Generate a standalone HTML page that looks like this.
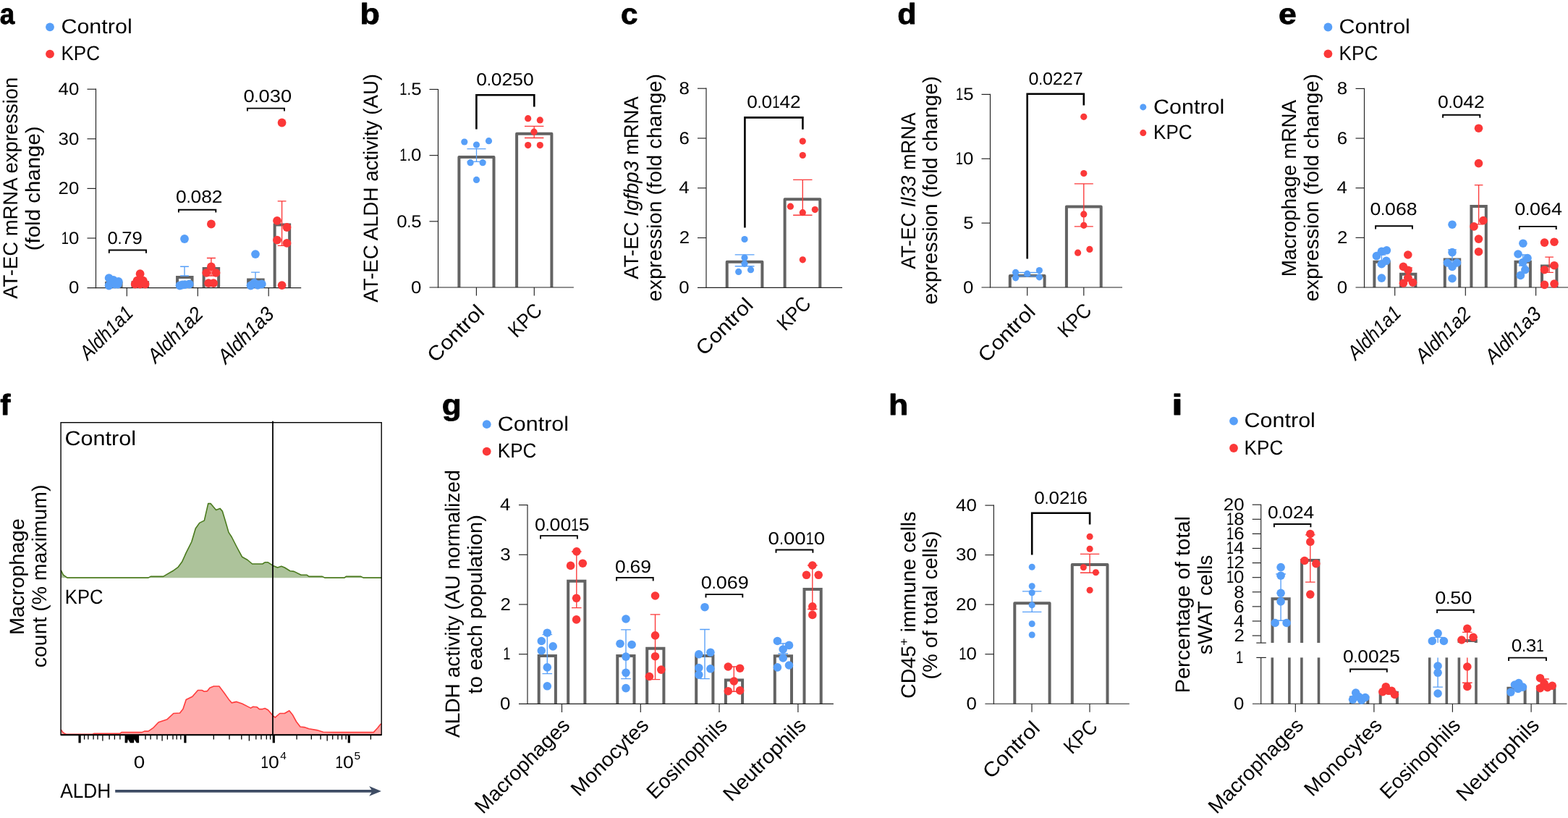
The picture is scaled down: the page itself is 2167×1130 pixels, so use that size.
<!DOCTYPE html>
<html lang="en"><head><meta charset="utf-8"><title>Figure</title>
<style>html,body{margin:0;padding:0;background:#fff}body{width:2167px;height:1130px;overflow:hidden}svg{display:block}</style>
</head><body>
<svg width="2167" height="1130" viewBox="0 0 2167 1130" font-family="'Liberation Sans', sans-serif" text-rendering="geometricPrecision">
<g class="bars"><path d="M147.05 397.60V391.00H167.55V397.60" fill="none" stroke="#636363" stroke-width="4.0" stroke-linejoin="miter"/>
<path d="M183.55 397.60V390.30H204.05V397.60" fill="none" stroke="#636363" stroke-width="4.0" stroke-linejoin="miter"/>
<path d="M245.05 397.60V383.10H265.55V397.60" fill="none" stroke="#636363" stroke-width="4.0" stroke-linejoin="miter"/>
<path d="M281.65 397.60V371.00H302.15V397.60" fill="none" stroke="#636363" stroke-width="4.0" stroke-linejoin="miter"/>
<path d="M343.15 397.60V386.40H363.65V397.60" fill="none" stroke="#636363" stroke-width="4.0" stroke-linejoin="miter"/>
<path d="M379.65 397.60V310.50H400.15V397.60" fill="none" stroke="#636363" stroke-width="4.0" stroke-linejoin="miter"/>
<path d="M634.40 397.00V216.90H682.50V397.00" fill="none" stroke="#636363" stroke-width="4.0" stroke-linejoin="round"/>
<path d="M714.10 397.00V184.70H762.40V397.00" fill="none" stroke="#636363" stroke-width="4.0" stroke-linejoin="round"/>
<path d="M1004.70 397.30V361.70H1053.40V397.30" fill="none" stroke="#636363" stroke-width="4.0" stroke-linejoin="round"/>
<path d="M1084.60 397.30V275.20H1133.30V397.30" fill="none" stroke="#636363" stroke-width="4.0" stroke-linejoin="round"/>
<path d="M1395.80 397.00V381.10H1443.60V397.00" fill="none" stroke="#636363" stroke-width="4.0" stroke-linejoin="round"/>
<path d="M1473.90 397.00V285.50H1521.70V397.00" fill="none" stroke="#636363" stroke-width="4.0" stroke-linejoin="round"/>
<path d="M1899.40 397.00V361.70H1919.80V397.00" fill="none" stroke="#636363" stroke-width="4.0" stroke-linejoin="miter"/>
<path d="M1936.00 397.00V378.70H1956.40V397.00" fill="none" stroke="#636363" stroke-width="4.0" stroke-linejoin="miter"/>
<path d="M1996.80 397.00V358.60H2017.20V397.00" fill="none" stroke="#636363" stroke-width="4.0" stroke-linejoin="miter"/>
<path d="M2033.40 397.00V285.00H2053.80V397.00" fill="none" stroke="#636363" stroke-width="4.0" stroke-linejoin="miter"/>
<path d="M2094.50 397.00V361.70H2114.90V397.00" fill="none" stroke="#636363" stroke-width="4.0" stroke-linejoin="miter"/>
<path d="M2131.00 397.00V367.60H2151.40V397.00" fill="none" stroke="#636363" stroke-width="4.0" stroke-linejoin="miter"/>
<path d="M84.2 798.3L84.2 787.7L87.4 794.2L92.9 798.1L205.0 798.1L208.2 796.4L225.7 796.4L231.1 793.1L238.7 788.8L246.3 783.3L251.8 775.7L257.2 763.7L264.8 748.5L270.3 730.0L275.7 722.4L282.3 719.1L287.7 695.6L291.0 695.6L298.6 704.5L304.0 702.4L307.3 706.1L311.6 720.2L316.0 735.4L320.3 742.0L326.9 755.0L334.5 769.2L342.1 773.5L348.6 779.0L362.8 779.0L366.1 776.8L370.4 776.8L376.9 781.2L383.5 784.0L388.9 782.3L393.3 784.0L400.9 788.8L406.3 789.4L416.1 794.2L423.8 794.2L427.0 796.4L445.5 796.4L448.8 798.1L476.0 798.1L478.2 796.4L498.9 796.4L502.1 798.1L527.2 798.1L527.2 798.3Z" fill="#adc39b"/>
<path d="M84.2 787.7L87.4 794.2L92.9 798.1L205.0 798.1L208.2 796.4L225.7 796.4L231.1 793.1L238.7 788.8L246.3 783.3L251.8 775.7L257.2 763.7L264.8 748.5L270.3 730.0L275.7 722.4L282.3 719.1L287.7 695.6L291.0 695.6L298.6 704.5L304.0 702.4L307.3 706.1L311.6 720.2L316.0 735.4L320.3 742.0L326.9 755.0L334.5 769.2L342.1 773.5L348.6 779.0L362.8 779.0L366.1 776.8L370.4 776.8L376.9 781.2L383.5 784.0L388.9 782.3L393.3 784.0L400.9 788.8L406.3 789.4L416.1 794.2L423.8 794.2L427.0 796.4L445.5 796.4L448.8 798.1L476.0 798.1L478.2 796.4L498.9 796.4L502.1 798.1L527.2 798.1" fill="none" stroke="#4a7a1d" stroke-width="1.6" stroke-linejoin="round"/>
<path d="M84.2 1015.2L84.2 1007.9L87.4 1012.3L91.8 1014.4L127.7 1014.4L129.9 1013.3L165.8 1013.3L168.0 1011.6L196.3 1011.6L199.5 1010.1L205.0 1010.1L211.5 1005.7L219.1 997.7L231.1 993.7L239.8 985.5L248.5 985.0L252.9 979.6L257.2 966.5L265.9 962.2L273.5 953.5L279.0 953.5L282.3 955.2L286.6 954.6L289.9 950.2L295.3 948.0L302.9 948.0L309.5 956.7L316.0 965.9L320.3 970.9L326.9 969.4L334.5 972.0L342.1 975.9L346.5 978.1L349.7 976.3L355.2 976.8L358.4 979.6L362.8 979.6L366.1 978.5L370.4 980.7L376.9 988.3L380.2 991.1L386.7 985.5L393.3 985.5L399.8 981.8L404.2 987.2L409.6 997.0L415.0 1004.0L420.5 1004.6L427.0 1006.8L437.9 1008.6L446.6 1011.2L461.8 1011.6L516.3 1011.6L521.7 1005.7L526.1 1000.3L527.2 1000.3L527.2 1015.2Z" fill="#ffabab"/>
<path d="M84.2 1007.9L87.4 1012.3L91.8 1014.4L127.7 1014.4L129.9 1013.3L165.8 1013.3L168.0 1011.6L196.3 1011.6L199.5 1010.1L205.0 1010.1L211.5 1005.7L219.1 997.7L231.1 993.7L239.8 985.5L248.5 985.0L252.9 979.6L257.2 966.5L265.9 962.2L273.5 953.5L279.0 953.5L282.3 955.2L286.6 954.6L289.9 950.2L295.3 948.0L302.9 948.0L309.5 956.7L316.0 965.9L320.3 970.9L326.9 969.4L334.5 972.0L342.1 975.9L346.5 978.1L349.7 976.3L355.2 976.8L358.4 979.6L362.8 979.6L366.1 978.5L370.4 980.7L376.9 988.3L380.2 991.1L386.7 985.5L393.3 985.5L399.8 981.8L404.2 987.2L409.6 997.0L415.0 1004.0L420.5 1004.6L427.0 1006.8L437.9 1008.6L446.6 1011.2L461.8 1011.6L516.3 1011.6L521.7 1005.7L526.1 1000.3L527.2 1000.3" fill="none" stroke="#ff3c3c" stroke-width="1.6" stroke-linejoin="round"/>
<path d="M744.70 972.40V906.00H767.90V972.40" fill="none" stroke="#636363" stroke-width="4.0" stroke-linejoin="miter"/>
<path d="M785.20 972.40V802.80H808.40V972.40" fill="none" stroke="#636363" stroke-width="4.0" stroke-linejoin="miter"/>
<path d="M853.30 972.40V906.00H876.50V972.40" fill="none" stroke="#636363" stroke-width="4.0" stroke-linejoin="miter"/>
<path d="M894.20 972.40V895.80H917.40V972.40" fill="none" stroke="#636363" stroke-width="4.0" stroke-linejoin="miter"/>
<path d="M962.20 972.40V906.00H985.40V972.40" fill="none" stroke="#636363" stroke-width="4.0" stroke-linejoin="miter"/>
<path d="M1002.90 972.40V939.60H1026.10V972.40" fill="none" stroke="#636363" stroke-width="4.0" stroke-linejoin="miter"/>
<path d="M1070.80 972.40V906.30H1094.00V972.40" fill="none" stroke="#636363" stroke-width="4.0" stroke-linejoin="miter"/>
<path d="M1111.50 972.40V813.90H1134.70V972.40" fill="none" stroke="#636363" stroke-width="4.0" stroke-linejoin="miter"/>
<path d="M1402.30 972.20V833.30H1450.60V972.20" fill="none" stroke="#636363" stroke-width="4.0" stroke-linejoin="round"/>
<path d="M1481.80 972.20V780.00H1530.50V972.20" fill="none" stroke="#636363" stroke-width="4.0" stroke-linejoin="round"/>
<path d="M1758.50 888.10V827.20H1781.70V888.10" fill="none" stroke="#636363" stroke-width="4.0" stroke-linejoin="miter"/>
<line x1="1758.30" y1="908.40" x2="1758.30" y2="972.20" stroke="#636363" stroke-width="3.6"/>
<line x1="1781.90" y1="908.40" x2="1781.90" y2="972.20" stroke="#636363" stroke-width="3.6"/>
<path d="M1799.10 888.10V774.10H1822.30V888.10" fill="none" stroke="#636363" stroke-width="4.0" stroke-linejoin="miter"/>
<line x1="1798.90" y1="908.40" x2="1798.90" y2="972.20" stroke="#636363" stroke-width="3.6"/>
<line x1="1822.50" y1="908.40" x2="1822.50" y2="972.20" stroke="#636363" stroke-width="3.6"/>
<path d="M1867.10 972.20V963.50H1890.30V972.20" fill="none" stroke="#636363" stroke-width="4.0" stroke-linejoin="miter"/>
<path d="M1907.70 972.20V956.80H1930.90V972.20" fill="none" stroke="#636363" stroke-width="4.0" stroke-linejoin="miter"/>
<line x1="1975.70" y1="908.40" x2="1975.70" y2="972.20" stroke="#636363" stroke-width="3.6"/>
<line x1="1999.30" y1="908.40" x2="1999.30" y2="972.20" stroke="#636363" stroke-width="3.6"/>
<path d="M2016.60 888.10V885.10H2039.80V888.10" fill="none" stroke="#636363" stroke-width="4.0" stroke-linejoin="miter"/>
<line x1="2016.40" y1="908.40" x2="2016.40" y2="972.20" stroke="#636363" stroke-width="3.6"/>
<line x1="2040.00" y1="908.40" x2="2040.00" y2="972.20" stroke="#636363" stroke-width="3.6"/>
<path d="M2084.40 972.20V950.70H2107.60V972.20" fill="none" stroke="#636363" stroke-width="4.0" stroke-linejoin="miter"/>
<path d="M2125.10 972.20V948.90H2148.30V972.20" fill="none" stroke="#636363" stroke-width="4.0" stroke-linejoin="miter"/></g>
<g class="axes"><line x1="132.50" y1="122.62" x2="132.50" y2="398.18" stroke="#222222" stroke-width="1.15"/>
<line x1="120.50" y1="123.20" x2="132.50" y2="123.20" stroke="#222222" stroke-width="1.15"/>
<line x1="120.50" y1="191.80" x2="132.50" y2="191.80" stroke="#222222" stroke-width="1.15"/>
<line x1="120.50" y1="260.40" x2="132.50" y2="260.40" stroke="#222222" stroke-width="1.15"/>
<line x1="120.50" y1="329.00" x2="132.50" y2="329.00" stroke="#222222" stroke-width="1.15"/>
<line x1="120.50" y1="397.60" x2="416.20" y2="397.60" stroke="#222222" stroke-width="1.15"/>
<line x1="175.30" y1="397.60" x2="175.30" y2="409.20" stroke="#222222" stroke-width="1.15"/>
<line x1="273.30" y1="397.60" x2="273.30" y2="409.20" stroke="#222222" stroke-width="1.15"/>
<line x1="371.20" y1="397.60" x2="371.20" y2="409.20" stroke="#222222" stroke-width="1.15"/>
<line x1="605.50" y1="122.88" x2="605.50" y2="397.57" stroke="#222222" stroke-width="1.15"/>
<line x1="593.50" y1="123.45" x2="605.50" y2="123.45" stroke="#222222" stroke-width="1.15"/>
<line x1="593.50" y1="214.63" x2="605.50" y2="214.63" stroke="#222222" stroke-width="1.15"/>
<line x1="593.50" y1="305.82" x2="605.50" y2="305.82" stroke="#222222" stroke-width="1.15"/>
<line x1="593.50" y1="397.00" x2="792.90" y2="397.00" stroke="#222222" stroke-width="1.15"/>
<line x1="658.40" y1="397.00" x2="658.40" y2="408.60" stroke="#222222" stroke-width="1.15"/>
<line x1="738.30" y1="397.00" x2="738.30" y2="408.60" stroke="#222222" stroke-width="1.15"/>
<line x1="976.00" y1="121.62" x2="976.00" y2="397.88" stroke="#222222" stroke-width="1.15"/>
<line x1="964.00" y1="122.20" x2="976.00" y2="122.20" stroke="#222222" stroke-width="1.15"/>
<line x1="964.00" y1="190.98" x2="976.00" y2="190.98" stroke="#222222" stroke-width="1.15"/>
<line x1="964.00" y1="259.75" x2="976.00" y2="259.75" stroke="#222222" stroke-width="1.15"/>
<line x1="964.00" y1="328.53" x2="976.00" y2="328.53" stroke="#222222" stroke-width="1.15"/>
<line x1="964.00" y1="397.30" x2="1164.00" y2="397.30" stroke="#222222" stroke-width="1.15"/>
<line x1="1368.50" y1="129.83" x2="1368.50" y2="397.57" stroke="#222222" stroke-width="1.15"/>
<line x1="1356.50" y1="130.40" x2="1368.50" y2="130.40" stroke="#222222" stroke-width="1.15"/>
<line x1="1356.50" y1="219.27" x2="1368.50" y2="219.27" stroke="#222222" stroke-width="1.15"/>
<line x1="1356.50" y1="308.13" x2="1368.50" y2="308.13" stroke="#222222" stroke-width="1.15"/>
<line x1="1356.50" y1="397.00" x2="1551.00" y2="397.00" stroke="#222222" stroke-width="1.15"/>
<line x1="1419.70" y1="397.00" x2="1419.70" y2="408.60" stroke="#222222" stroke-width="1.15"/>
<line x1="1497.80" y1="397.00" x2="1497.80" y2="408.60" stroke="#222222" stroke-width="1.15"/>
<line x1="1885.50" y1="121.83" x2="1885.50" y2="397.57" stroke="#222222" stroke-width="1.15"/>
<line x1="1873.50" y1="122.40" x2="1885.50" y2="122.40" stroke="#222222" stroke-width="1.15"/>
<line x1="1873.50" y1="191.05" x2="1885.50" y2="191.05" stroke="#222222" stroke-width="1.15"/>
<line x1="1873.50" y1="259.70" x2="1885.50" y2="259.70" stroke="#222222" stroke-width="1.15"/>
<line x1="1873.50" y1="328.35" x2="1885.50" y2="328.35" stroke="#222222" stroke-width="1.15"/>
<line x1="1873.50" y1="397.00" x2="2167.00" y2="397.00" stroke="#222222" stroke-width="1.15"/>
<line x1="1927.70" y1="397.00" x2="1927.70" y2="408.60" stroke="#222222" stroke-width="1.15"/>
<line x1="2025.30" y1="397.00" x2="2025.30" y2="408.60" stroke="#222222" stroke-width="1.15"/>
<line x1="2122.60" y1="397.00" x2="2122.60" y2="408.60" stroke="#222222" stroke-width="1.15"/>
<rect x="84.1" y="583.7" width="443.1" height="431.5" fill="none" stroke="#000" stroke-width="1.4"/>
<line x1="84.10" y1="1015.20" x2="527.20" y2="1015.20" stroke="#000" stroke-width="2.0"/>
<line x1="377.00" y1="581.80" x2="377.00" y2="1016.00" stroke="#000" stroke-width="1.8"/>
<line x1="110.10" y1="1015.50" x2="110.10" y2="1026.30" stroke="#000" stroke-width="3.2"/>
<line x1="255.90" y1="1015.50" x2="255.90" y2="1026.30" stroke="#000" stroke-width="3.2"/>
<line x1="378.30" y1="1015.50" x2="378.30" y2="1026.30" stroke="#000" stroke-width="3.2"/>
<line x1="482.30" y1="1015.50" x2="482.30" y2="1026.30" stroke="#000" stroke-width="3.2"/>
<path d="M172.6 1015.5H192.1V1026.3H188.8L185.6 1021.3L184.9 1026.3H179.9L176.9 1021.3L176 1026.3H172.6Z" fill="#000"/>
<line x1="116.60" y1="1015.50" x2="116.60" y2="1021.60" stroke="#000" stroke-width="1.3"/>
<line x1="121.90" y1="1015.50" x2="121.90" y2="1021.60" stroke="#000" stroke-width="1.3"/>
<line x1="129.10" y1="1015.50" x2="129.10" y2="1021.60" stroke="#000" stroke-width="1.3"/>
<line x1="135.00" y1="1015.50" x2="135.00" y2="1021.60" stroke="#000" stroke-width="1.3"/>
<line x1="151.10" y1="1015.50" x2="151.10" y2="1021.60" stroke="#000" stroke-width="1.3"/>
<line x1="158.40" y1="1015.50" x2="158.40" y2="1021.60" stroke="#000" stroke-width="1.3"/>
<line x1="165.90" y1="1015.50" x2="165.90" y2="1021.60" stroke="#000" stroke-width="1.3"/>
<line x1="201.00" y1="1015.50" x2="201.00" y2="1021.60" stroke="#000" stroke-width="1.3"/>
<line x1="208.10" y1="1015.50" x2="208.10" y2="1021.60" stroke="#000" stroke-width="1.3"/>
<line x1="217.00" y1="1015.50" x2="217.00" y2="1021.60" stroke="#000" stroke-width="1.3"/>
<line x1="231.40" y1="1015.50" x2="231.40" y2="1021.60" stroke="#000" stroke-width="1.3"/>
<line x1="239.00" y1="1015.50" x2="239.00" y2="1021.60" stroke="#000" stroke-width="1.3"/>
<line x1="244.20" y1="1015.50" x2="244.20" y2="1021.60" stroke="#000" stroke-width="1.3"/>
<line x1="249.80" y1="1015.50" x2="249.80" y2="1021.60" stroke="#000" stroke-width="1.3"/>
<line x1="295.30" y1="1015.50" x2="295.30" y2="1021.60" stroke="#000" stroke-width="1.3"/>
<line x1="317.00" y1="1015.50" x2="317.00" y2="1021.60" stroke="#000" stroke-width="1.3"/>
<line x1="333.80" y1="1015.50" x2="333.80" y2="1021.60" stroke="#000" stroke-width="1.3"/>
<line x1="353.80" y1="1015.50" x2="353.80" y2="1021.60" stroke="#000" stroke-width="1.3"/>
<line x1="361.00" y1="1015.50" x2="361.00" y2="1021.60" stroke="#000" stroke-width="1.3"/>
<line x1="368.30" y1="1015.50" x2="368.30" y2="1021.60" stroke="#000" stroke-width="1.3"/>
<line x1="373.60" y1="1015.50" x2="373.60" y2="1021.60" stroke="#000" stroke-width="1.3"/>
<line x1="410.10" y1="1015.50" x2="410.10" y2="1021.60" stroke="#000" stroke-width="1.3"/>
<line x1="430.30" y1="1015.50" x2="430.30" y2="1021.60" stroke="#000" stroke-width="1.3"/>
<line x1="443.10" y1="1015.50" x2="443.10" y2="1021.60" stroke="#000" stroke-width="1.3"/>
<line x1="459.70" y1="1015.50" x2="459.70" y2="1021.60" stroke="#000" stroke-width="1.3"/>
<line x1="467.00" y1="1015.50" x2="467.00" y2="1021.60" stroke="#000" stroke-width="1.3"/>
<line x1="472.50" y1="1015.50" x2="472.50" y2="1021.60" stroke="#000" stroke-width="1.3"/>
<line x1="478.10" y1="1015.50" x2="478.10" y2="1021.60" stroke="#000" stroke-width="1.3"/>
<line x1="512.40" y1="1015.50" x2="512.40" y2="1021.60" stroke="#000" stroke-width="1.3"/>
<line x1="141.90" y1="1015.50" x2="141.90" y2="1023.50" stroke="#000" stroke-width="1.3"/>
<line x1="224.10" y1="1015.50" x2="224.10" y2="1023.50" stroke="#000" stroke-width="1.3"/>
<line x1="344.40" y1="1015.50" x2="344.40" y2="1023.50" stroke="#000" stroke-width="1.3"/>
<line x1="452.20" y1="1015.50" x2="452.20" y2="1023.50" stroke="#000" stroke-width="1.3"/>
<line x1="159.20" y1="1092.90" x2="516.00" y2="1092.90" stroke="#3e4c64" stroke-width="3.9"/>
<path d="M526.9 1092.9L510.2 1085.9L514.6 1092.9L510.2 1099.8Z" fill="#3e4c64"/>
<line x1="729.00" y1="697.02" x2="729.00" y2="972.98" stroke="#222222" stroke-width="1.15"/>
<line x1="717.00" y1="697.60" x2="729.00" y2="697.60" stroke="#222222" stroke-width="1.15"/>
<line x1="717.00" y1="766.30" x2="729.00" y2="766.30" stroke="#222222" stroke-width="1.15"/>
<line x1="717.00" y1="835.00" x2="729.00" y2="835.00" stroke="#222222" stroke-width="1.15"/>
<line x1="717.00" y1="903.70" x2="729.00" y2="903.70" stroke="#222222" stroke-width="1.15"/>
<line x1="717.00" y1="972.40" x2="1151.90" y2="972.40" stroke="#222222" stroke-width="1.15"/>
<line x1="776.50" y1="972.40" x2="776.50" y2="984.00" stroke="#222222" stroke-width="1.15"/>
<line x1="885.30" y1="972.40" x2="885.30" y2="984.00" stroke="#222222" stroke-width="1.15"/>
<line x1="994.00" y1="972.40" x2="994.00" y2="984.00" stroke="#222222" stroke-width="1.15"/>
<line x1="1102.90" y1="972.40" x2="1102.90" y2="984.00" stroke="#222222" stroke-width="1.15"/>
<line x1="1373.40" y1="697.52" x2="1373.40" y2="972.78" stroke="#222222" stroke-width="1.15"/>
<line x1="1361.40" y1="698.10" x2="1373.40" y2="698.10" stroke="#222222" stroke-width="1.15"/>
<line x1="1361.40" y1="766.62" x2="1373.40" y2="766.62" stroke="#222222" stroke-width="1.15"/>
<line x1="1361.40" y1="835.15" x2="1373.40" y2="835.15" stroke="#222222" stroke-width="1.15"/>
<line x1="1361.40" y1="903.68" x2="1373.40" y2="903.68" stroke="#222222" stroke-width="1.15"/>
<line x1="1361.40" y1="972.20" x2="1560.80" y2="972.20" stroke="#222222" stroke-width="1.15"/>
<line x1="1426.00" y1="972.20" x2="1426.00" y2="983.80" stroke="#222222" stroke-width="1.15"/>
<line x1="1506.00" y1="972.20" x2="1506.00" y2="983.80" stroke="#222222" stroke-width="1.15"/>
<line x1="1742.70" y1="696.70" x2="1742.70" y2="888.10" stroke="#222222" stroke-width="1.15"/>
<line x1="1736.30" y1="888.10" x2="1749.80" y2="888.10" stroke="#222222" stroke-width="1.15"/>
<line x1="1742.70" y1="908.40" x2="1742.70" y2="972.70" stroke="#222222" stroke-width="1.15"/>
<line x1="1736.30" y1="908.40" x2="1749.80" y2="908.40" stroke="#222222" stroke-width="1.15"/>
<line x1="1730.70" y1="697.20" x2="1742.70" y2="697.20" stroke="#222222" stroke-width="1.15"/>
<line x1="1730.70" y1="717.30" x2="1742.70" y2="717.30" stroke="#222222" stroke-width="1.15"/>
<line x1="1730.70" y1="737.40" x2="1742.70" y2="737.40" stroke="#222222" stroke-width="1.15"/>
<line x1="1730.70" y1="757.50" x2="1742.70" y2="757.50" stroke="#222222" stroke-width="1.15"/>
<line x1="1730.70" y1="777.60" x2="1742.70" y2="777.60" stroke="#222222" stroke-width="1.15"/>
<line x1="1730.70" y1="797.70" x2="1742.70" y2="797.70" stroke="#222222" stroke-width="1.15"/>
<line x1="1730.70" y1="817.80" x2="1742.70" y2="817.80" stroke="#222222" stroke-width="1.15"/>
<line x1="1730.70" y1="837.90" x2="1742.70" y2="837.90" stroke="#222222" stroke-width="1.15"/>
<line x1="1730.70" y1="858.00" x2="1742.70" y2="858.00" stroke="#222222" stroke-width="1.15"/>
<line x1="1730.70" y1="878.10" x2="1742.70" y2="878.10" stroke="#222222" stroke-width="1.15"/>
<line x1="1730.90" y1="972.20" x2="2165.50" y2="972.20" stroke="#222222" stroke-width="1.15"/>
<line x1="1790.30" y1="972.20" x2="1790.30" y2="983.80" stroke="#222222" stroke-width="1.15"/>
<line x1="1898.90" y1="972.20" x2="1898.90" y2="983.80" stroke="#222222" stroke-width="1.15"/>
<line x1="2007.40" y1="972.20" x2="2007.40" y2="983.80" stroke="#222222" stroke-width="1.15"/>
<line x1="2116.10" y1="972.20" x2="2116.10" y2="983.80" stroke="#222222" stroke-width="1.15"/></g>
<g class="err"><path d="M255.00 368.20V381.00M249.10 368.20H260.90M249.10 381.00H260.90" fill="none" stroke="#579ff8" stroke-width="1.35" stroke-linejoin="miter"/>
<path d="M291.90 356.50V381.00M285.90 356.50H297.90M285.90 381.00H297.90" fill="none" stroke="#fb3838" stroke-width="1.35" stroke-linejoin="miter"/>
<path d="M353.00 376.10V388.00M347.10 376.10H358.90M347.10 388.00H358.90" fill="none" stroke="#579ff8" stroke-width="1.35" stroke-linejoin="miter"/>
<path d="M389.60 277.80V339.30M383.70 277.80H395.50M383.70 339.30H395.50" fill="none" stroke="#fb3838" stroke-width="1.35" stroke-linejoin="miter"/>
<path d="M658.50 205.60V223.40M645.50 205.60H671.50M645.50 223.40H671.50" fill="none" stroke="#579ff8" stroke-width="1.35" stroke-linejoin="miter"/>
<path d="M738.20 174.40V190.50M725.00 174.40H751.40M725.00 190.50H751.40" fill="none" stroke="#fb3838" stroke-width="1.35" stroke-linejoin="miter"/>
<path d="M1029.10 351.80V367.70M1015.70 351.80H1042.50M1015.70 367.70H1042.50" fill="none" stroke="#579ff8" stroke-width="1.35" stroke-linejoin="miter"/>
<path d="M1109.30 248.40V297.20M1096.10 248.40H1122.50M1096.10 297.20H1122.50" fill="none" stroke="#fb3838" stroke-width="1.35" stroke-linejoin="miter"/>
<path d="M1419.70 376.50V381.50M1403.70 376.50H1435.70M1403.70 381.50H1435.70" fill="none" stroke="#579ff8" stroke-width="1.35" stroke-linejoin="miter"/>
<path d="M1497.80 253.90V312.90M1484.80 253.90H1510.80M1484.80 312.90H1510.80" fill="none" stroke="#fb3838" stroke-width="1.35" stroke-linejoin="miter"/>
<path d="M1909.40 352.00V366.00M1903.60 352.00H1915.20M1903.60 366.00H1915.20" fill="none" stroke="#579ff8" stroke-width="1.35" stroke-linejoin="miter"/>
<path d="M1946.00 370.00V383.00M1940.20 370.00H1951.80M1940.20 383.00H1951.80" fill="none" stroke="#fb3838" stroke-width="1.35" stroke-linejoin="miter"/>
<path d="M2007.00 345.00V368.00M2001.20 345.00H2012.80M2001.20 368.00H2012.80" fill="none" stroke="#579ff8" stroke-width="1.35" stroke-linejoin="miter"/>
<path d="M2043.60 255.60V309.80M2037.80 255.60H2049.40M2037.80 309.80H2049.40" fill="none" stroke="#fb3838" stroke-width="1.35" stroke-linejoin="miter"/>
<path d="M2104.70 352.00V367.00M2098.90 352.00H2110.50M2098.90 367.00H2110.50" fill="none" stroke="#579ff8" stroke-width="1.35" stroke-linejoin="miter"/>
<path d="M2141.10 355.10V376.40M2135.30 355.10H2146.90M2135.30 376.40H2146.90" fill="none" stroke="#fb3838" stroke-width="1.35" stroke-linejoin="miter"/>
<path d="M756.30 876.60V930.60M749.50 876.60H763.10M749.50 930.60H763.10" fill="none" stroke="#579ff8" stroke-width="1.35" stroke-linejoin="miter"/>
<path d="M796.80 762.00V839.60M790.00 762.00H803.60M790.00 839.60H803.60" fill="none" stroke="#fb3838" stroke-width="1.35" stroke-linejoin="miter"/>
<path d="M865.00 869.80V937.60M858.20 869.80H871.80M858.20 937.60H871.80" fill="none" stroke="#579ff8" stroke-width="1.35" stroke-linejoin="miter"/>
<path d="M905.50 848.90V938.60M898.70 848.90H912.30M898.70 938.60H912.30" fill="none" stroke="#fb3838" stroke-width="1.35" stroke-linejoin="miter"/>
<path d="M974.00 869.50V937.60M967.20 869.50H980.80M967.20 937.60H980.80" fill="none" stroke="#579ff8" stroke-width="1.35" stroke-linejoin="miter"/>
<path d="M1014.30 921.00V955.20M1007.50 921.00H1021.10M1007.50 955.20H1021.10" fill="none" stroke="#fb3838" stroke-width="1.35" stroke-linejoin="miter"/>
<path d="M1082.20 889.00V903.00M1075.40 889.00H1089.00M1075.40 903.00H1089.00" fill="none" stroke="#579ff8" stroke-width="1.35" stroke-linejoin="miter"/>
<path d="M1122.80 781.00V841.50M1116.00 781.00H1129.60M1116.00 841.50H1129.60" fill="none" stroke="#fb3838" stroke-width="1.35" stroke-linejoin="miter"/>
<path d="M1426.20 816.90V845.30M1413.00 816.90H1439.40M1413.00 845.30H1439.40" fill="none" stroke="#579ff8" stroke-width="1.35" stroke-linejoin="miter"/>
<path d="M1506.10 765.30V791.20M1492.90 765.30H1519.30M1492.90 791.20H1519.30" fill="none" stroke="#fb3838" stroke-width="1.35" stroke-linejoin="miter"/>
<path d="M1770.10 793.00V857.20M1763.30 793.00H1776.90M1763.30 857.20H1776.90" fill="none" stroke="#579ff8" stroke-width="1.35" stroke-linejoin="miter"/>
<path d="M1810.80 738.80V804.10M1804.00 738.80H1817.60M1804.00 804.10H1817.60" fill="none" stroke="#fb3838" stroke-width="1.35" stroke-linejoin="miter"/>
<path d="M1987.10 880.30V888.10M1980.30 880.30H1993.90" fill="none" stroke="#579ff8" stroke-width="1.35" stroke-linejoin="miter"/>
<path d="M1987.10 908.40V949.10M1980.30 949.10H1993.90" fill="none" stroke="#579ff8" stroke-width="1.35" stroke-linejoin="miter"/>
<path d="M2027.80 873.30V888.10M2021.00 873.30H2034.60" fill="none" stroke="#fb3838" stroke-width="1.35" stroke-linejoin="miter"/>
<path d="M2027.80 908.40V943.20M2021.00 943.20H2034.60" fill="none" stroke="#fb3838" stroke-width="1.35" stroke-linejoin="miter"/>
<path d="M2134.00 938.00V948.00M2127.20 938.00H2140.80M2127.20 948.00H2140.80" fill="none" stroke="#fb3838" stroke-width="1.35" stroke-linejoin="miter"/></g>
<g class="dots"><circle cx="150.6" cy="384.1" r="5.9" fill="#579ff8"/>
<circle cx="156.8" cy="387.0" r="5.9" fill="#579ff8"/>
<circle cx="163.8" cy="389.0" r="5.9" fill="#579ff8"/>
<circle cx="150.6" cy="394.5" r="5.9" fill="#579ff8"/>
<circle cx="158.9" cy="392.5" r="5.9" fill="#579ff8"/>
<circle cx="163.0" cy="392.5" r="5.9" fill="#579ff8"/>
<circle cx="193.6" cy="378.2" r="5.9" fill="#fb3838"/>
<circle cx="189.5" cy="387.6" r="5.9" fill="#fb3838"/>
<circle cx="197.8" cy="387.6" r="5.9" fill="#fb3838"/>
<circle cx="186.7" cy="392.5" r="5.9" fill="#fb3838"/>
<circle cx="193.6" cy="392.5" r="5.9" fill="#fb3838"/>
<circle cx="200.6" cy="392.5" r="5.9" fill="#fb3838"/>
<circle cx="255.0" cy="330.0" r="5.9" fill="#579ff8"/>
<circle cx="248.5" cy="394.5" r="5.9" fill="#579ff8"/>
<circle cx="255.5" cy="393.2" r="5.9" fill="#579ff8"/>
<circle cx="261.7" cy="392.5" r="5.9" fill="#579ff8"/>
<circle cx="252.0" cy="393.5" r="5.9" fill="#579ff8"/>
<circle cx="291.9" cy="309.5" r="5.9" fill="#fb3838"/>
<circle cx="291.9" cy="368.4" r="5.9" fill="#fb3838"/>
<circle cx="285.3" cy="376.8" r="5.9" fill="#fb3838"/>
<circle cx="298.5" cy="376.8" r="5.9" fill="#fb3838"/>
<circle cx="288.1" cy="391.1" r="5.9" fill="#fb3838"/>
<circle cx="295.1" cy="391.1" r="5.9" fill="#fb3838"/>
<circle cx="353.0" cy="351.1" r="5.9" fill="#579ff8"/>
<circle cx="346.5" cy="394.5" r="5.9" fill="#579ff8"/>
<circle cx="351.3" cy="391.0" r="5.9" fill="#579ff8"/>
<circle cx="356.2" cy="393.9" r="5.9" fill="#579ff8"/>
<circle cx="361.8" cy="392.5" r="5.9" fill="#579ff8"/>
<circle cx="383.0" cy="304.9" r="5.9" fill="#fb3838"/>
<circle cx="396.5" cy="314.0" r="5.9" fill="#fb3838"/>
<circle cx="383.0" cy="331.6" r="5.9" fill="#fb3838"/>
<circle cx="396.5" cy="335.9" r="5.9" fill="#fb3838"/>
<circle cx="389.6" cy="394.1" r="5.9" fill="#fb3838"/>
<circle cx="389.6" cy="169.5" r="5.9" fill="#fb3838"/>
<circle cx="641.8" cy="196.0" r="4.6" fill="#579ff8"/>
<circle cx="658.5" cy="200.1" r="4.6" fill="#579ff8"/>
<circle cx="675.5" cy="194.7" r="4.6" fill="#579ff8"/>
<circle cx="650.1" cy="224.7" r="4.6" fill="#579ff8"/>
<circle cx="667.1" cy="224.7" r="4.6" fill="#579ff8"/>
<circle cx="658.5" cy="248.4" r="4.6" fill="#579ff8"/>
<circle cx="729.7" cy="163.7" r="4.6" fill="#fb3838"/>
<circle cx="746.3" cy="165.9" r="4.6" fill="#fb3838"/>
<circle cx="738.0" cy="182.2" r="4.6" fill="#fb3838"/>
<circle cx="729.7" cy="200.6" r="4.6" fill="#fb3838"/>
<circle cx="746.3" cy="200.6" r="4.6" fill="#fb3838"/>
<circle cx="1029.0" cy="330.5" r="4.6" fill="#579ff8"/>
<circle cx="1029.0" cy="356.0" r="4.6" fill="#579ff8"/>
<circle cx="1029.0" cy="364.3" r="4.6" fill="#579ff8"/>
<circle cx="1020.7" cy="375.4" r="4.6" fill="#579ff8"/>
<circle cx="1037.5" cy="372.7" r="4.6" fill="#579ff8"/>
<circle cx="1109.3" cy="195.1" r="4.6" fill="#fb3838"/>
<circle cx="1109.3" cy="214.5" r="4.6" fill="#fb3838"/>
<circle cx="1092.4" cy="285.2" r="4.6" fill="#fb3838"/>
<circle cx="1126.3" cy="289.6" r="4.6" fill="#fb3838"/>
<circle cx="1109.3" cy="293.7" r="4.6" fill="#fb3838"/>
<circle cx="1109.3" cy="358.8" r="4.6" fill="#fb3838"/>
<circle cx="1403.6" cy="376.4" r="4.6" fill="#579ff8"/>
<circle cx="1419.7" cy="378.2" r="4.6" fill="#579ff8"/>
<circle cx="1436.4" cy="373.6" r="4.6" fill="#579ff8"/>
<circle cx="1403.6" cy="383.8" r="4.6" fill="#579ff8"/>
<circle cx="1436.4" cy="382.8" r="4.6" fill="#579ff8"/>
<circle cx="1497.8" cy="161.3" r="4.6" fill="#fb3838"/>
<circle cx="1497.8" cy="239.5" r="4.6" fill="#fb3838"/>
<circle cx="1497.8" cy="295.9" r="4.6" fill="#fb3838"/>
<circle cx="1497.8" cy="311.3" r="4.6" fill="#fb3838"/>
<circle cx="1505.9" cy="344.4" r="4.6" fill="#fb3838"/>
<circle cx="1489.6" cy="349.2" r="4.6" fill="#fb3838"/>
<circle cx="1902.4" cy="353.6" r="5.8" fill="#579ff8"/>
<circle cx="1909.4" cy="347.3" r="5.8" fill="#579ff8"/>
<circle cx="1916.4" cy="345.8" r="5.8" fill="#579ff8"/>
<circle cx="1909.4" cy="364.7" r="5.8" fill="#579ff8"/>
<circle cx="1915.9" cy="360.3" r="5.8" fill="#579ff8"/>
<circle cx="1909.4" cy="384.1" r="5.8" fill="#579ff8"/>
<circle cx="1945.8" cy="352.0" r="5.8" fill="#fb3838"/>
<circle cx="1939.4" cy="368.4" r="5.8" fill="#fb3838"/>
<circle cx="1946.0" cy="373.2" r="5.8" fill="#fb3838"/>
<circle cx="1939.4" cy="391.2" r="5.8" fill="#fb3838"/>
<circle cx="1952.5" cy="390.2" r="5.8" fill="#fb3838"/>
<circle cx="1945.8" cy="383.8" r="5.8" fill="#fb3838"/>
<circle cx="2007.0" cy="310.2" r="5.8" fill="#579ff8"/>
<circle cx="2007.0" cy="348.6" r="5.8" fill="#579ff8"/>
<circle cx="2000.4" cy="363.0" r="5.8" fill="#579ff8"/>
<circle cx="2013.5" cy="363.0" r="5.8" fill="#579ff8"/>
<circle cx="2007.0" cy="368.4" r="5.8" fill="#579ff8"/>
<circle cx="2007.0" cy="384.7" r="5.8" fill="#579ff8"/>
<circle cx="2043.5" cy="177.2" r="5.8" fill="#fb3838"/>
<circle cx="2043.5" cy="225.6" r="5.8" fill="#fb3838"/>
<circle cx="2049.9" cy="304.6" r="5.8" fill="#fb3838"/>
<circle cx="2037.0" cy="312.9" r="5.8" fill="#fb3838"/>
<circle cx="2043.5" cy="330.1" r="5.8" fill="#fb3838"/>
<circle cx="2043.5" cy="347.7" r="5.8" fill="#fb3838"/>
<circle cx="2104.9" cy="336.2" r="5.8" fill="#579ff8"/>
<circle cx="2098.0" cy="351.0" r="5.8" fill="#579ff8"/>
<circle cx="2111.0" cy="356.6" r="5.8" fill="#579ff8"/>
<circle cx="2104.5" cy="362.5" r="5.8" fill="#579ff8"/>
<circle cx="2107.8" cy="372.7" r="5.8" fill="#579ff8"/>
<circle cx="2101.4" cy="380.4" r="5.8" fill="#579ff8"/>
<circle cx="2134.5" cy="335.1" r="5.8" fill="#fb3838"/>
<circle cx="2148.0" cy="334.2" r="5.8" fill="#fb3838"/>
<circle cx="2148.0" cy="366.7" r="5.8" fill="#fb3838"/>
<circle cx="2134.5" cy="372.7" r="5.8" fill="#fb3838"/>
<circle cx="2134.5" cy="393.4" r="5.8" fill="#fb3838"/>
<circle cx="2148.0" cy="392.1" r="5.8" fill="#fb3838"/>
<circle cx="756.3" cy="874.2" r="5.8" fill="#579ff8"/>
<circle cx="748.3" cy="885.5" r="5.8" fill="#579ff8"/>
<circle cx="764.2" cy="892.9" r="5.8" fill="#579ff8"/>
<circle cx="748.3" cy="898.8" r="5.8" fill="#579ff8"/>
<circle cx="756.3" cy="921.9" r="5.8" fill="#579ff8"/>
<circle cx="756.3" cy="947.8" r="5.8" fill="#579ff8"/>
<circle cx="796.9" cy="761.9" r="5.8" fill="#fb3838"/>
<circle cx="788.6" cy="781.4" r="5.8" fill="#fb3838"/>
<circle cx="805.3" cy="778.2" r="5.8" fill="#fb3838"/>
<circle cx="796.6" cy="826.3" r="5.8" fill="#fb3838"/>
<circle cx="796.6" cy="855.9" r="5.8" fill="#fb3838"/>
<circle cx="865.0" cy="855.0" r="5.8" fill="#579ff8"/>
<circle cx="857.0" cy="889.2" r="5.8" fill="#579ff8"/>
<circle cx="873.1" cy="890.5" r="5.8" fill="#579ff8"/>
<circle cx="865.0" cy="907.1" r="5.8" fill="#579ff8"/>
<circle cx="865.0" cy="929.3" r="5.8" fill="#579ff8"/>
<circle cx="865.0" cy="950.6" r="5.8" fill="#579ff8"/>
<circle cx="905.5" cy="823.0" r="5.8" fill="#fb3838"/>
<circle cx="905.5" cy="877.9" r="5.8" fill="#fb3838"/>
<circle cx="905.5" cy="906.7" r="5.8" fill="#fb3838"/>
<circle cx="913.8" cy="925.1" r="5.8" fill="#fb3838"/>
<circle cx="897.4" cy="934.5" r="5.8" fill="#fb3838"/>
<circle cx="974.0" cy="838.7" r="5.8" fill="#579ff8"/>
<circle cx="965.8" cy="903.8" r="5.8" fill="#579ff8"/>
<circle cx="981.9" cy="901.2" r="5.8" fill="#579ff8"/>
<circle cx="965.8" cy="922.5" r="5.8" fill="#579ff8"/>
<circle cx="981.9" cy="923.8" r="5.8" fill="#579ff8"/>
<circle cx="965.8" cy="932.1" r="5.8" fill="#579ff8"/>
<circle cx="1006.3" cy="921.0" r="5.8" fill="#fb3838"/>
<circle cx="1022.6" cy="923.2" r="5.8" fill="#fb3838"/>
<circle cx="1014.3" cy="941.0" r="5.8" fill="#fb3838"/>
<circle cx="1006.3" cy="954.7" r="5.8" fill="#fb3838"/>
<circle cx="1022.6" cy="953.9" r="5.8" fill="#fb3838"/>
<circle cx="1074.4" cy="885.5" r="5.8" fill="#579ff8"/>
<circle cx="1090.5" cy="891.4" r="5.8" fill="#579ff8"/>
<circle cx="1082.2" cy="897.0" r="5.8" fill="#579ff8"/>
<circle cx="1082.2" cy="909.0" r="5.8" fill="#579ff8"/>
<circle cx="1074.4" cy="921.9" r="5.8" fill="#579ff8"/>
<circle cx="1090.5" cy="919.0" r="5.8" fill="#579ff8"/>
<circle cx="1122.8" cy="781.0" r="5.8" fill="#fb3838"/>
<circle cx="1114.5" cy="794.3" r="5.8" fill="#fb3838"/>
<circle cx="1131.2" cy="794.3" r="5.8" fill="#fb3838"/>
<circle cx="1122.8" cy="837.8" r="5.8" fill="#fb3838"/>
<circle cx="1122.8" cy="849.4" r="5.8" fill="#fb3838"/>
<circle cx="1426.2" cy="783.2" r="4.5" fill="#579ff8"/>
<circle cx="1426.2" cy="809.7" r="4.5" fill="#579ff8"/>
<circle cx="1426.2" cy="818.7" r="4.5" fill="#579ff8"/>
<circle cx="1426.2" cy="835.9" r="4.5" fill="#579ff8"/>
<circle cx="1426.2" cy="861.8" r="4.5" fill="#579ff8"/>
<circle cx="1426.2" cy="877.0" r="4.5" fill="#579ff8"/>
<circle cx="1506.1" cy="741.2" r="4.5" fill="#fb3838"/>
<circle cx="1506.1" cy="758.2" r="4.5" fill="#fb3838"/>
<circle cx="1497.4" cy="783.8" r="4.5" fill="#fb3838"/>
<circle cx="1514.4" cy="790.8" r="4.5" fill="#fb3838"/>
<circle cx="1506.1" cy="815.2" r="4.5" fill="#fb3838"/>
<circle cx="1770.1" cy="783.6" r="5.8" fill="#579ff8"/>
<circle cx="1770.1" cy="795.2" r="5.8" fill="#579ff8"/>
<circle cx="1770.1" cy="819.3" r="5.8" fill="#579ff8"/>
<circle cx="1770.1" cy="830.9" r="5.8" fill="#579ff8"/>
<circle cx="1762.2" cy="860.5" r="5.8" fill="#579ff8"/>
<circle cx="1778.1" cy="860.5" r="5.8" fill="#579ff8"/>
<circle cx="1810.8" cy="737.5" r="5.8" fill="#fb3838"/>
<circle cx="1810.8" cy="748.5" r="5.8" fill="#fb3838"/>
<circle cx="1802.9" cy="774.5" r="5.8" fill="#fb3838"/>
<circle cx="1818.8" cy="778.6" r="5.8" fill="#fb3838"/>
<circle cx="1810.8" cy="821.1" r="5.8" fill="#fb3838"/>
<circle cx="1873.7" cy="957.1" r="5.8" fill="#579ff8"/>
<circle cx="1869.6" cy="966.3" r="5.8" fill="#579ff8"/>
<circle cx="1878.0" cy="962.6" r="5.8" fill="#579ff8"/>
<circle cx="1881.7" cy="967.2" r="5.8" fill="#579ff8"/>
<circle cx="1886.8" cy="963.5" r="5.8" fill="#579ff8"/>
<circle cx="1915.3" cy="948.7" r="5.8" fill="#fb3838"/>
<circle cx="1910.9" cy="955.6" r="5.8" fill="#fb3838"/>
<circle cx="1919.0" cy="954.3" r="5.8" fill="#fb3838"/>
<circle cx="1923.3" cy="954.3" r="5.8" fill="#fb3838"/>
<circle cx="1927.5" cy="959.5" r="5.8" fill="#fb3838"/>
<circle cx="1987.1" cy="874.8" r="5.8" fill="#579ff8"/>
<circle cx="1979.3" cy="885.5" r="5.8" fill="#579ff8"/>
<circle cx="1995.4" cy="885.5" r="5.8" fill="#579ff8"/>
<circle cx="1987.1" cy="920.0" r="5.8" fill="#579ff8"/>
<circle cx="1987.1" cy="929.3" r="5.8" fill="#579ff8"/>
<circle cx="1987.1" cy="958.0" r="5.8" fill="#579ff8"/>
<circle cx="2027.8" cy="868.3" r="5.8" fill="#fb3838"/>
<circle cx="2020.0" cy="884.0" r="5.8" fill="#fb3838"/>
<circle cx="2036.1" cy="880.3" r="5.8" fill="#fb3838"/>
<circle cx="2027.8" cy="921.0" r="5.8" fill="#fb3838"/>
<circle cx="2027.8" cy="948.4" r="5.8" fill="#fb3838"/>
<circle cx="2087.9" cy="956.1" r="5.8" fill="#579ff8"/>
<circle cx="2093.4" cy="946.0" r="5.8" fill="#579ff8"/>
<circle cx="2098.9" cy="943.6" r="5.8" fill="#579ff8"/>
<circle cx="2104.5" cy="949.1" r="5.8" fill="#579ff8"/>
<circle cx="2098.0" cy="951.5" r="5.8" fill="#579ff8"/>
<circle cx="2128.5" cy="936.7" r="5.8" fill="#fb3838"/>
<circle cx="2128.5" cy="950.6" r="5.8" fill="#fb3838"/>
<circle cx="2134.1" cy="944.1" r="5.8" fill="#fb3838"/>
<circle cx="2138.7" cy="949.7" r="5.8" fill="#fb3838"/>
<circle cx="2145.2" cy="947.3" r="5.8" fill="#fb3838"/></g>
<g class="ann"><circle cx="69.0" cy="37.3" r="5.9" fill="#579ff8"/>
<circle cx="69.0" cy="74.6" r="5.9" fill="#fb3838"/>
<path d="M150.80 349.80V345.50H202.00V349.80" fill="none" stroke="#000" stroke-width="1.9" stroke-linejoin="miter"/>
<path d="M246.90 293.60V289.70H298.30V293.60" fill="none" stroke="#000" stroke-width="1.9" stroke-linejoin="miter"/>
<path d="M341.90 153.60V149.60H393.00V153.60" fill="none" stroke="#000" stroke-width="1.9" stroke-linejoin="miter"/>
<path d="M658.40 178.50V131.30H738.30V147.40" fill="none" stroke="#000" stroke-width="2.6" stroke-linejoin="miter"/>
<path d="M1029.40 314.40V162.40H1109.40V178.80" fill="none" stroke="#000" stroke-width="2.6" stroke-linejoin="miter"/>
<path d="M1419.70 357.50V129.80H1497.80V145.50" fill="none" stroke="#000" stroke-width="2.6" stroke-linejoin="miter"/>
<circle cx="1579.8" cy="147.9" r="4.5" fill="#579ff8"/>
<circle cx="1579.8" cy="183.6" r="4.5" fill="#fb3838"/>
<circle cx="1835.4" cy="37.5" r="5.9" fill="#579ff8"/>
<circle cx="1835.4" cy="74.3" r="5.9" fill="#fb3838"/>
<path d="M1901.10 316.40V312.20H1951.90V316.40" fill="none" stroke="#000" stroke-width="1.9" stroke-linejoin="miter"/>
<path d="M1994.10 162.80V158.70H2045.30V162.80" fill="none" stroke="#000" stroke-width="1.9" stroke-linejoin="miter"/>
<path d="M2099.90 317.00V312.90H2150.70V317.00" fill="none" stroke="#000" stroke-width="1.9" stroke-linejoin="miter"/>
<circle cx="672.7" cy="586.2" r="5.9" fill="#579ff8"/>
<circle cx="672.7" cy="623.6" r="5.9" fill="#fb3838"/>
<path d="M747.00 744.40V740.10H797.90V744.40" fill="none" stroke="#000" stroke-width="1.9" stroke-linejoin="miter"/>
<path d="M852.10 802.40V798.00H902.70V802.40" fill="none" stroke="#000" stroke-width="1.9" stroke-linejoin="miter"/>
<path d="M975.50 825.40V821.10H1026.30V825.40" fill="none" stroke="#000" stroke-width="1.9" stroke-linejoin="miter"/>
<path d="M1072.50 763.80V759.50H1123.40V763.80" fill="none" stroke="#000" stroke-width="1.9" stroke-linejoin="miter"/>
<path d="M1426.20 766.60V708.70H1506.10V724.40" fill="none" stroke="#000" stroke-width="2.6" stroke-linejoin="miter"/>
<circle cx="1705.0" cy="581.6" r="5.9" fill="#579ff8"/>
<circle cx="1705.0" cy="619.0" r="5.9" fill="#fb3838"/>
<path d="M1760.90 728.30V724.00H1811.40V728.30" fill="none" stroke="#000" stroke-width="1.9" stroke-linejoin="miter"/>
<path d="M1866.10 928.80V924.50H1916.80V928.80" fill="none" stroke="#000" stroke-width="1.9" stroke-linejoin="miter"/>
<path d="M1986.10 847.10V842.80H2036.60V847.10" fill="none" stroke="#000" stroke-width="1.9" stroke-linejoin="miter"/>
<path d="M2085.10 912.90V908.60H2136.90V912.90" fill="none" stroke="#000" stroke-width="1.9" stroke-linejoin="miter"/></g>
<g class="text"><text transform="translate(0.90 32.90) translate(-1.10 0) scale(0.9137 1)" font-size="40.3" font-weight="bold" stroke="#000" stroke-width="0.8" stroke-linejoin="round" xml:space="preserve">a</text>
<text transform="translate(500.40 32.90) translate(-2.92 0) scale(1.1154 1)" font-size="40.3" font-weight="bold" stroke="#000" stroke-width="0.8" stroke-linejoin="round" xml:space="preserve">b</text>
<text transform="translate(859.80 32.90) translate(-1.69 0) scale(1.0488 1)" font-size="40.3" font-weight="bold" stroke="#000" stroke-width="0.8" stroke-linejoin="round" xml:space="preserve">c</text>
<text transform="translate(1242.10 32.90) translate(-1.73 0) scale(1.0712 1)" font-size="40.3" font-weight="bold" stroke="#000" stroke-width="0.8" stroke-linejoin="round" xml:space="preserve">d</text>
<text transform="translate(1768.90 32.90) translate(-1.78 0) scale(1.1063 1)" font-size="40.3" font-weight="bold" stroke="#000" stroke-width="0.8" stroke-linejoin="round" xml:space="preserve">e</text>
<text transform="translate(0.80 573.30) translate(-0.64 0) scale(1.0546 1)" font-size="40.3" font-weight="bold" stroke="#000" stroke-width="0.8" stroke-linejoin="round" xml:space="preserve">f</text>
<text transform="translate(612.40 573.30) translate(-1.77 0) scale(1.0957 1)" font-size="40.3" font-weight="bold" stroke="#000" stroke-width="0.8" stroke-linejoin="round" xml:space="preserve">g</text>
<text transform="translate(1231.10 573.30) translate(-3.12 0) scale(1.1063 1)" font-size="40.3" font-weight="bold" stroke="#000" stroke-width="0.8" stroke-linejoin="round" xml:space="preserve">h</text>
<text transform="translate(1623.00 573.30) translate(-4.00 0) scale(1.4179 1)" font-size="40.3" font-weight="bold" stroke="#000" stroke-width="0.8" stroke-linejoin="round" xml:space="preserve">i</text>
<text x="80.64" y="130.90" font-size="24.0"><tspan textLength="28.80" lengthAdjust="spacingAndGlyphs">40</tspan></text>
<text x="80.64" y="199.50" font-size="24.0"><tspan textLength="28.80" lengthAdjust="spacingAndGlyphs">30</tspan></text>
<text x="80.64" y="268.10" font-size="24.0"><tspan textLength="28.80" lengthAdjust="spacingAndGlyphs">20</tspan></text>
<text x="84.84" y="336.70" font-size="24.0"><tspan textLength="10.20" lengthAdjust="spacingAndGlyphs">1</tspan><tspan textLength="14.40" lengthAdjust="spacingAndGlyphs">0</tspan></text>
<text x="95.04" y="405.30" font-size="24.0"><tspan textLength="14.40" lengthAdjust="spacingAndGlyphs">0</tspan></text>
<text transform="translate(85.90 45.90) translate(-1.52 0) scale(1.0854 1)" font-size="28.1" xml:space="preserve">Control</text>
<text transform="translate(86.50 83.20) translate(-2.09 0) scale(0.9282 1)" font-size="28.1" xml:space="preserve">KPC</text>
<text transform="translate(23.50 412.70) rotate(-90) translate(-0.00 0) scale(0.9766 1)" font-size="28.1" xml:space="preserve">AT-EC mRNA expression</text>
<text transform="translate(55.20 344.50) rotate(-90) translate(-1.77 0) scale(1.0486 1)" font-size="28.1" xml:space="preserve">(fold change)</text>
<text x="148.47" y="336.90" font-size="24.3"><tspan textLength="14.29" lengthAdjust="spacingAndGlyphs">0</tspan><tspan textLength="5.56" lengthAdjust="spacingAndGlyphs">.</tspan><tspan textLength="28.57" lengthAdjust="spacingAndGlyphs">79</tspan></text>
<text x="243.04" y="279.90" font-size="24.3"><tspan textLength="14.70" lengthAdjust="spacingAndGlyphs">0</tspan><tspan textLength="5.72" lengthAdjust="spacingAndGlyphs">.</tspan><tspan textLength="44.10" lengthAdjust="spacingAndGlyphs">082</tspan></text>
<text x="336.41" y="141.00" font-size="24.3"><tspan textLength="15.19" lengthAdjust="spacingAndGlyphs">0</tspan><tspan textLength="5.91" lengthAdjust="spacingAndGlyphs">.</tspan><tspan textLength="45.58" lengthAdjust="spacingAndGlyphs">030</tspan></text>
<text transform="translate(184.30 435.70) rotate(-45) translate(-88.76 0) scale(0.8811 1)" font-size="28.1" font-style="italic" xml:space="preserve">Aldh1a1</text>
<text transform="translate(282.30 435.70) rotate(-45) translate(-94.70 0) scale(0.9221 1)" font-size="28.1" font-style="italic" xml:space="preserve">Aldh1a2</text>
<text transform="translate(380.20 435.70) rotate(-45) translate(-96.19 0) scale(0.9340 1)" font-size="28.1" font-style="italic" xml:space="preserve">Aldh1a3</text>
<text x="552.37" y="131.15" font-size="24.0"><tspan textLength="10.20" lengthAdjust="spacingAndGlyphs">1</tspan><tspan textLength="5.60" lengthAdjust="spacingAndGlyphs">.</tspan><tspan textLength="14.40" lengthAdjust="spacingAndGlyphs">5</tspan></text>
<text x="552.24" y="222.33" font-size="24.0"><tspan textLength="10.20" lengthAdjust="spacingAndGlyphs">1</tspan><tspan textLength="5.60" lengthAdjust="spacingAndGlyphs">.</tspan><tspan textLength="14.40" lengthAdjust="spacingAndGlyphs">0</tspan></text>
<text x="548.17" y="313.52" font-size="24.0"><tspan textLength="14.40" lengthAdjust="spacingAndGlyphs">0</tspan><tspan textLength="5.60" lengthAdjust="spacingAndGlyphs">.</tspan><tspan textLength="14.40" lengthAdjust="spacingAndGlyphs">5</tspan></text>
<text x="568.04" y="404.70" font-size="24.0"><tspan textLength="14.40" lengthAdjust="spacingAndGlyphs">0</tspan></text>
<text transform="translate(522.10 417.70) rotate(-90) translate(-0.00 0) scale(0.9835 1)" font-size="28.1" xml:space="preserve">AT-EC ALDH activity (AU)</text>
<text x="658.34" y="118.00" font-size="24.3"><tspan textLength="14.72" lengthAdjust="spacingAndGlyphs">0</tspan><tspan textLength="5.72" lengthAdjust="spacingAndGlyphs">.</tspan><tspan textLength="58.87" lengthAdjust="spacingAndGlyphs">0250</tspan></text>
<text transform="translate(669.60 434.00) rotate(-45) translate(-96.02 0) scale(1.0831 1)" font-size="28.1" xml:space="preserve">Control</text>
<text transform="translate(750.10 431.30) rotate(-45) translate(-51.54 0) scale(0.9080 1)" font-size="28.1" xml:space="preserve">KPC</text>
<text x="938.47" y="129.90" font-size="24.0"><tspan textLength="14.40" lengthAdjust="spacingAndGlyphs">8</tspan></text>
<text x="938.47" y="198.68" font-size="24.0"><tspan textLength="14.40" lengthAdjust="spacingAndGlyphs">6</tspan></text>
<text x="938.21" y="267.45" font-size="24.0"><tspan textLength="14.40" lengthAdjust="spacingAndGlyphs">4</tspan></text>
<text x="938.72" y="336.23" font-size="24.0"><tspan textLength="14.40" lengthAdjust="spacingAndGlyphs">2</tspan></text>
<text x="938.34" y="405.00" font-size="24.0"><tspan textLength="14.40" lengthAdjust="spacingAndGlyphs">0</tspan></text>
<text transform="translate(881.80 385.70) rotate(-90) translate(-0.00 0) scale(0.9826 1)" font-size="28.1" xml:space="preserve"><tspan>AT-EC </tspan><tspan font-style="italic">Igfbp3</tspan><tspan> mRNA</tspan></text>
<text transform="translate(913.60 415.30) rotate(-90) translate(-1.15 0) scale(1.0224 1)" font-size="28.1" xml:space="preserve">expression (fold change)</text>
<text x="1032.25" y="148.90" font-size="24.3"><tspan textLength="14.61" lengthAdjust="spacingAndGlyphs">0</tspan><tspan textLength="5.68" lengthAdjust="spacingAndGlyphs">.</tspan><tspan textLength="14.61" lengthAdjust="spacingAndGlyphs">0</tspan><tspan textLength="10.35" lengthAdjust="spacingAndGlyphs">1</tspan><tspan textLength="29.23" lengthAdjust="spacingAndGlyphs">42</tspan></text>
<text transform="translate(1041.00 424.50) rotate(-45) translate(-96.02 0) scale(1.0831 1)" font-size="28.1" xml:space="preserve">Control</text>
<text transform="translate(1121.60 421.80) rotate(-45) translate(-51.54 0) scale(0.9080 1)" font-size="28.1" xml:space="preserve">KPC</text>
<text x="1320.97" y="138.10" font-size="24.0"><tspan textLength="10.20" lengthAdjust="spacingAndGlyphs">1</tspan><tspan textLength="14.40" lengthAdjust="spacingAndGlyphs">5</tspan></text>
<text x="1320.84" y="226.97" font-size="24.0"><tspan textLength="10.20" lengthAdjust="spacingAndGlyphs">1</tspan><tspan textLength="14.40" lengthAdjust="spacingAndGlyphs">0</tspan></text>
<text x="1331.17" y="315.83" font-size="24.0"><tspan textLength="14.40" lengthAdjust="spacingAndGlyphs">5</tspan></text>
<text x="1331.04" y="404.70" font-size="24.0"><tspan textLength="14.40" lengthAdjust="spacingAndGlyphs">0</tspan></text>
<text transform="translate(1264.50 371.70) rotate(-90) translate(-0.00 0) scale(0.9649 1)" font-size="28.1" xml:space="preserve"><tspan>AT-EC </tspan><tspan font-style="italic">Il33</tspan><tspan> mRNA</tspan></text>
<text transform="translate(1295.40 419.60) rotate(-90) translate(-1.15 0) scale(1.0256 1)" font-size="28.1" xml:space="preserve">expression (fold change)</text>
<text x="1421.50" y="116.90" font-size="24.3"><tspan textLength="13.97" lengthAdjust="spacingAndGlyphs">0</tspan><tspan textLength="5.43" lengthAdjust="spacingAndGlyphs">.</tspan><tspan textLength="55.89" lengthAdjust="spacingAndGlyphs">0227</tspan></text>
<text transform="translate(1431.00 434.00) rotate(-45) translate(-96.02 0) scale(1.0831 1)" font-size="28.1" xml:space="preserve">Control</text>
<text transform="translate(1509.70 431.30) rotate(-45) translate(-51.54 0) scale(0.9080 1)" font-size="28.1" xml:space="preserve">KPC</text>
<text transform="translate(1595.50 156.50) translate(-1.52 0) scale(1.0854 1)" font-size="28.1" xml:space="preserve">Control</text>
<text transform="translate(1596.10 192.20) translate(-2.09 0) scale(0.9282 1)" font-size="28.1" xml:space="preserve">KPC</text>
<text x="1847.87" y="130.10" font-size="24.0"><tspan textLength="14.40" lengthAdjust="spacingAndGlyphs">8</tspan></text>
<text x="1847.87" y="198.75" font-size="24.0"><tspan textLength="14.40" lengthAdjust="spacingAndGlyphs">6</tspan></text>
<text x="1847.61" y="267.40" font-size="24.0"><tspan textLength="14.40" lengthAdjust="spacingAndGlyphs">4</tspan></text>
<text x="1848.12" y="336.05" font-size="24.0"><tspan textLength="14.40" lengthAdjust="spacingAndGlyphs">2</tspan></text>
<text x="1847.74" y="404.70" font-size="24.0"><tspan textLength="14.40" lengthAdjust="spacingAndGlyphs">0</tspan></text>
<text transform="translate(1852.10 46.10) translate(-1.52 0) scale(1.0854 1)" font-size="28.1" xml:space="preserve">Control</text>
<text transform="translate(1852.70 82.90) translate(-2.09 0) scale(0.9282 1)" font-size="28.1" xml:space="preserve">KPC</text>
<text transform="translate(1790.60 380.10) rotate(-90) translate(-2.23 0) scale(0.9911 1)" font-size="28.1" xml:space="preserve">Macrophage mRNA</text>
<text transform="translate(1821.70 415.30) rotate(-90) translate(-1.15 0) scale(1.0224 1)" font-size="28.1" xml:space="preserve">expression (fold change)</text>
<text x="1893.53" y="296.80" font-size="24.3"><tspan textLength="14.82" lengthAdjust="spacingAndGlyphs">0</tspan><tspan textLength="5.77" lengthAdjust="spacingAndGlyphs">.</tspan><tspan textLength="44.47" lengthAdjust="spacingAndGlyphs">068</tspan></text>
<text x="1986.94" y="148.90" font-size="24.3"><tspan textLength="14.79" lengthAdjust="spacingAndGlyphs">0</tspan><tspan textLength="5.75" lengthAdjust="spacingAndGlyphs">.</tspan><tspan textLength="44.38" lengthAdjust="spacingAndGlyphs">042</tspan></text>
<text x="2093.22" y="296.80" font-size="24.3"><tspan textLength="14.97" lengthAdjust="spacingAndGlyphs">0</tspan><tspan textLength="5.82" lengthAdjust="spacingAndGlyphs">.</tspan><tspan textLength="44.92" lengthAdjust="spacingAndGlyphs">064</tspan></text>
<text transform="translate(1936.50 435.70) rotate(-45) translate(-88.76 0) scale(0.8811 1)" font-size="28.1" font-style="italic" xml:space="preserve">Aldh1a1</text>
<text transform="translate(2034.30 435.70) rotate(-45) translate(-94.70 0) scale(0.9221 1)" font-size="28.1" font-style="italic" xml:space="preserve">Aldh1a2</text>
<text transform="translate(2131.40 435.70) rotate(-45) translate(-96.19 0) scale(0.9340 1)" font-size="28.1" font-style="italic" xml:space="preserve">Aldh1a3</text>
<text x="184.88" y="1061.20" font-size="24.0"><tspan textLength="15.53" lengthAdjust="spacingAndGlyphs">0</tspan></text>
<text x="360.49" y="1061.20" font-size="24.0"><tspan textLength="10.48" lengthAdjust="spacingAndGlyphs">1</tspan><tspan textLength="14.80" lengthAdjust="spacingAndGlyphs">0</tspan><tspan dx="1.43" dy="-12.50" font-size="14.4" textLength="8.64" lengthAdjust="spacingAndGlyphs">4</tspan></text>
<text x="463.59" y="1061.20" font-size="24.0"><tspan textLength="10.48" lengthAdjust="spacingAndGlyphs">1</tspan><tspan textLength="14.80" lengthAdjust="spacingAndGlyphs">0</tspan><tspan dx="0.62" dy="-12.50" font-size="14.4" textLength="8.64" lengthAdjust="spacingAndGlyphs">5</tspan></text>
<text transform="translate(91.00 614.90) translate(-1.53 0) scale(1.0877 1)" font-size="28.1" xml:space="preserve">Control</text>
<text transform="translate(91.90 833.70) translate(-2.05 0) scale(0.9099 1)" font-size="28.1" xml:space="preserve">KPC</text>
<text transform="translate(83.20 1102.20) translate(-0.00 0) scale(0.9361 1)" font-size="28.1" xml:space="preserve">ALDH</text>
<text transform="translate(32.90 874.80) rotate(-90) translate(-2.32 0) scale(1.0300 1)" font-size="28.1" xml:space="preserve">Macrophage</text>
<text transform="translate(64.30 921.00) rotate(-90) translate(-1.14 0) scale(1.0109 1)" font-size="28.1" xml:space="preserve">count (% maximum)</text>
<text x="691.01" y="705.30" font-size="24.0"><tspan textLength="14.40" lengthAdjust="spacingAndGlyphs">4</tspan></text>
<text x="691.27" y="774.00" font-size="24.0"><tspan textLength="14.40" lengthAdjust="spacingAndGlyphs">3</tspan></text>
<text x="691.52" y="842.70" font-size="24.0"><tspan textLength="14.40" lengthAdjust="spacingAndGlyphs">2</tspan></text>
<text x="695.25" y="911.40" font-size="24.0"><tspan textLength="10.20" lengthAdjust="spacingAndGlyphs">1</tspan></text>
<text x="691.14" y="980.10" font-size="24.0"><tspan textLength="14.40" lengthAdjust="spacingAndGlyphs">0</tspan></text>
<text transform="translate(689.30 594.80) translate(-1.52 0) scale(1.0854 1)" font-size="28.1" xml:space="preserve">Control</text>
<text transform="translate(689.90 632.20) translate(-2.09 0) scale(0.9282 1)" font-size="28.1" xml:space="preserve">KPC</text>
<text transform="translate(634.70 1019.00) rotate(-90) translate(-0.00 0) scale(0.9993 1)" font-size="28.1" xml:space="preserve">ALDH activity (AU normalized</text>
<text transform="translate(665.60 958.00) rotate(-90) translate(-0.44 0) scale(1.0347 1)" font-size="28.1" xml:space="preserve">to each population)</text>
<text x="738.93" y="733.30" font-size="24.3"><tspan textLength="14.86" lengthAdjust="spacingAndGlyphs">0</tspan><tspan textLength="5.78" lengthAdjust="spacingAndGlyphs">.</tspan><tspan textLength="29.73" lengthAdjust="spacingAndGlyphs">00</tspan><tspan textLength="10.53" lengthAdjust="spacingAndGlyphs">1</tspan><tspan textLength="14.86" lengthAdjust="spacingAndGlyphs">5</tspan></text>
<text x="850.04" y="791.20" font-size="24.3"><tspan textLength="14.72" lengthAdjust="spacingAndGlyphs">0</tspan><tspan textLength="5.72" lengthAdjust="spacingAndGlyphs">.</tspan><tspan textLength="29.44" lengthAdjust="spacingAndGlyphs">69</tspan></text>
<text x="968.82" y="813.20" font-size="24.3"><tspan textLength="15.02" lengthAdjust="spacingAndGlyphs">0</tspan><tspan textLength="5.84" lengthAdjust="spacingAndGlyphs">.</tspan><tspan textLength="45.06" lengthAdjust="spacingAndGlyphs">069</tspan></text>
<text x="1061.59" y="751.80" font-size="24.3"><tspan textLength="15.40" lengthAdjust="spacingAndGlyphs">0</tspan><tspan textLength="5.99" lengthAdjust="spacingAndGlyphs">.</tspan><tspan textLength="30.80" lengthAdjust="spacingAndGlyphs">00</tspan><tspan textLength="10.91" lengthAdjust="spacingAndGlyphs">1</tspan><tspan textLength="15.40" lengthAdjust="spacingAndGlyphs">0</tspan></text>
<text transform="translate(788.50 1004.30) rotate(-45) translate(-171.27 0) scale(1.0116 1)" font-size="28.1" xml:space="preserve">Macrophages</text>
<text transform="translate(897.30 1004.30) rotate(-45) translate(-137.29 0) scale(1.0179 1)" font-size="28.1" xml:space="preserve">Monocytes</text>
<text transform="translate(1006.00 1004.30) rotate(-45) translate(-142.75 0) scale(1.0000 1)" font-size="28.1" xml:space="preserve">Eosinophils</text>
<text transform="translate(1114.90 1004.30) rotate(-45) translate(-147.35 0) scale(1.0435 1)" font-size="28.1" xml:space="preserve">Neutrophils</text>
<text x="1321.14" y="705.80" font-size="24.0"><tspan textLength="28.80" lengthAdjust="spacingAndGlyphs">40</tspan></text>
<text x="1321.14" y="774.32" font-size="24.0"><tspan textLength="28.80" lengthAdjust="spacingAndGlyphs">30</tspan></text>
<text x="1321.14" y="842.85" font-size="24.0"><tspan textLength="28.80" lengthAdjust="spacingAndGlyphs">20</tspan></text>
<text x="1325.34" y="911.38" font-size="24.0"><tspan textLength="10.20" lengthAdjust="spacingAndGlyphs">1</tspan><tspan textLength="14.40" lengthAdjust="spacingAndGlyphs">0</tspan></text>
<text x="1335.54" y="979.90" font-size="24.0"><tspan textLength="14.40" lengthAdjust="spacingAndGlyphs">0</tspan></text>
<text transform="translate(1264.50 963.50) rotate(-90) translate(-1.43 0) scale(1.0194 1)" font-size="28.1" xml:space="preserve"><tspan>CD45</tspan><tspan font-size="17" dy="-9.5">+</tspan><tspan dy="9.5"> immune cells</tspan></text>
<text transform="translate(1295.40 936.70) rotate(-90) translate(-1.73 0) scale(1.0264 1)" font-size="28.1" xml:space="preserve">(% of total cells)</text>
<text x="1429.36" y="695.90" font-size="24.3"><tspan textLength="14.46" lengthAdjust="spacingAndGlyphs">0</tspan><tspan textLength="5.62" lengthAdjust="spacingAndGlyphs">.</tspan><tspan textLength="28.92" lengthAdjust="spacingAndGlyphs">02</tspan><tspan textLength="10.24" lengthAdjust="spacingAndGlyphs">1</tspan><tspan textLength="14.46" lengthAdjust="spacingAndGlyphs">6</tspan></text>
<text transform="translate(1437.30 1009.20) rotate(-45) translate(-96.02 0) scale(1.0831 1)" font-size="28.1" xml:space="preserve">Control</text>
<text transform="translate(1517.90 1006.50) rotate(-45) translate(-51.54 0) scale(0.9080 1)" font-size="28.1" xml:space="preserve">KPC</text>
<text x="1690.74" y="704.90" font-size="24.0"><tspan textLength="28.80" lengthAdjust="spacingAndGlyphs">20</tspan></text>
<text x="1695.07" y="725.00" font-size="24.0"><tspan textLength="10.20" lengthAdjust="spacingAndGlyphs">1</tspan><tspan textLength="14.40" lengthAdjust="spacingAndGlyphs">8</tspan></text>
<text x="1695.07" y="745.10" font-size="24.0"><tspan textLength="10.20" lengthAdjust="spacingAndGlyphs">1</tspan><tspan textLength="14.40" lengthAdjust="spacingAndGlyphs">6</tspan></text>
<text x="1694.81" y="765.20" font-size="24.0"><tspan textLength="10.20" lengthAdjust="spacingAndGlyphs">1</tspan><tspan textLength="14.40" lengthAdjust="spacingAndGlyphs">4</tspan></text>
<text x="1695.32" y="785.30" font-size="24.0"><tspan textLength="10.20" lengthAdjust="spacingAndGlyphs">1</tspan><tspan textLength="14.40" lengthAdjust="spacingAndGlyphs">2</tspan></text>
<text x="1694.94" y="805.40" font-size="24.0"><tspan textLength="10.20" lengthAdjust="spacingAndGlyphs">1</tspan><tspan textLength="14.40" lengthAdjust="spacingAndGlyphs">0</tspan></text>
<text x="1705.27" y="825.50" font-size="24.0"><tspan textLength="14.40" lengthAdjust="spacingAndGlyphs">8</tspan></text>
<text x="1705.27" y="845.60" font-size="24.0"><tspan textLength="14.40" lengthAdjust="spacingAndGlyphs">6</tspan></text>
<text x="1705.01" y="865.70" font-size="24.0"><tspan textLength="14.40" lengthAdjust="spacingAndGlyphs">4</tspan></text>
<text x="1705.52" y="885.80" font-size="24.0"><tspan textLength="14.40" lengthAdjust="spacingAndGlyphs">2</tspan></text>
<text x="1708.05" y="916.20" font-size="24.0"><tspan textLength="10.20" lengthAdjust="spacingAndGlyphs">1</tspan></text>
<text x="1705.14" y="979.90" font-size="24.0"><tspan textLength="14.40" lengthAdjust="spacingAndGlyphs">0</tspan></text>
<text transform="translate(1721.10 590.20) translate(-1.52 0) scale(1.0854 1)" font-size="28.1" xml:space="preserve">Control</text>
<text transform="translate(1721.70 627.60) translate(-2.09 0) scale(0.9282 1)" font-size="28.1" xml:space="preserve">KPC</text>
<text transform="translate(1644.00 955.20) rotate(-90) translate(-2.33 0) scale(1.0370 1)" font-size="28.1" xml:space="preserve">Percentage of total</text>
<text transform="translate(1675.10 903.40) rotate(-90) translate(-0.85 0) scale(1.0065 1)" font-size="28.1" xml:space="preserve">sWAT cells</text>
<text x="1752.05" y="715.70" font-size="24.3"><tspan textLength="14.62" lengthAdjust="spacingAndGlyphs">0</tspan><tspan textLength="5.69" lengthAdjust="spacingAndGlyphs">.</tspan><tspan textLength="43.86" lengthAdjust="spacingAndGlyphs">024</tspan></text>
<text x="1855.95" y="915.40" font-size="24.3"><tspan textLength="14.65" lengthAdjust="spacingAndGlyphs">0</tspan><tspan textLength="5.70" lengthAdjust="spacingAndGlyphs">.</tspan><tspan textLength="58.59" lengthAdjust="spacingAndGlyphs">0025</tspan></text>
<text x="1983.22" y="833.50" font-size="24.3"><tspan textLength="15.07" lengthAdjust="spacingAndGlyphs">0</tspan><tspan textLength="5.86" lengthAdjust="spacingAndGlyphs">.</tspan><tspan textLength="30.14" lengthAdjust="spacingAndGlyphs">50</tspan></text>
<text x="2088.66" y="900.10" font-size="24.3"><tspan textLength="14.53" lengthAdjust="spacingAndGlyphs">0</tspan><tspan textLength="5.65" lengthAdjust="spacingAndGlyphs">.</tspan><tspan textLength="14.53" lengthAdjust="spacingAndGlyphs">3</tspan><tspan textLength="10.29" lengthAdjust="spacingAndGlyphs">1</tspan></text>
<text transform="translate(1802.30 1004.30) rotate(-45) translate(-171.27 0) scale(1.0116 1)" font-size="28.1" xml:space="preserve">Macrophages</text>
<text transform="translate(1910.90 1004.30) rotate(-45) translate(-137.29 0) scale(1.0179 1)" font-size="28.1" xml:space="preserve">Monocytes</text>
<text transform="translate(2019.40 1004.30) rotate(-45) translate(-142.75 0) scale(1.0000 1)" font-size="28.1" xml:space="preserve">Eosinophils</text>
<text transform="translate(2128.10 1004.30) rotate(-45) translate(-147.35 0) scale(1.0435 1)" font-size="28.1" xml:space="preserve">Neutrophils</text></g>
</svg>
</body></html>
